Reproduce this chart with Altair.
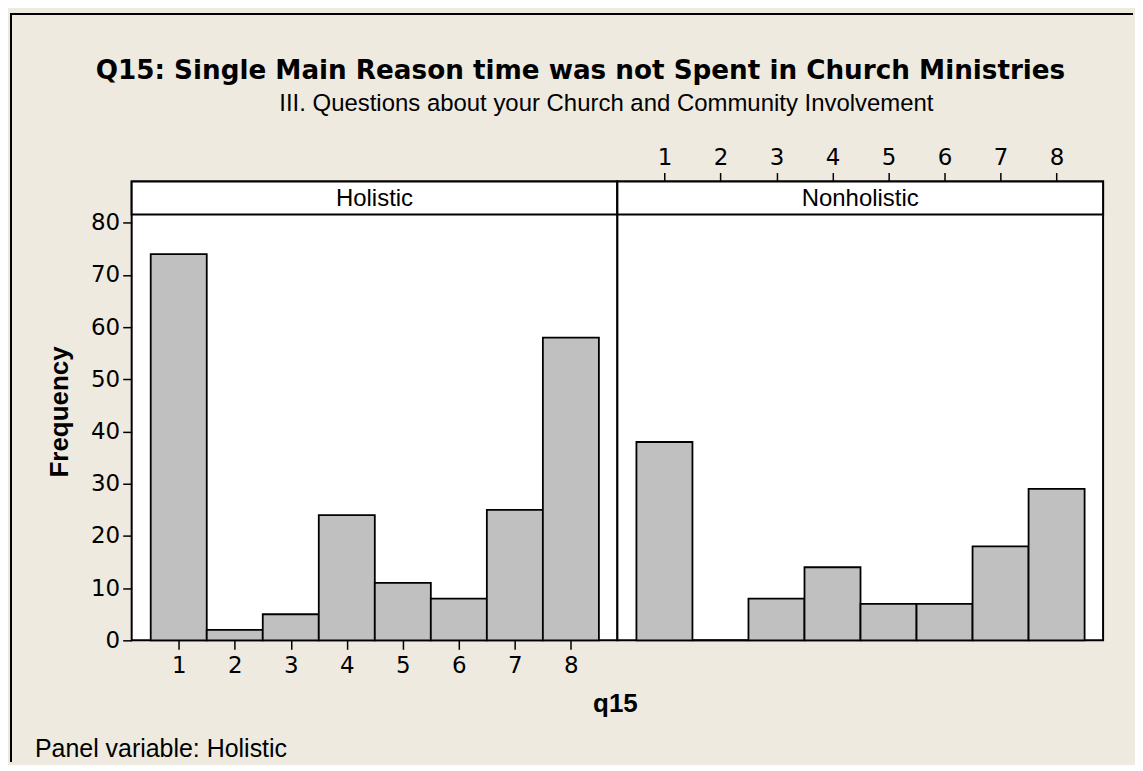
import altair as alt
import pandas as pd

# ---- data ----
categories = [1, 2, 3, 4, 5, 6, 7, 8]
holistic_freq = [74, 2, 5, 24, 11, 8, 25, 58]
nonholistic_freq = [38, 0, 8, 14, 7, 7, 18, 29]
panel_names = ["Holistic", "Nonholistic"]
y_ticks = [0, 10, 20, 30, 40, 50, 60, 70, 80]

title_text = "Q15: Single Main Reason time was not Spent in Church Ministries"
subtitle_text = "III. Questions about your Church and Community Involvement"
footnote_text = "Panel variable: Holistic"
x_title = "q15"
y_title = "Frequency"

# ---- style ----
W, H = 487, 460
XDOM = [0.16, 8.83]
YDOM = [0, 87.9]
FONT = "Liberation Sans"
TICK_FONT = "DejaVu Sans"
TITLE_FONT = "DejaVu Sans"
BG = "#EEEAE0"
BAR = "#C0C0C0"
STRIP_H = 33

x_scale = alt.Scale(domain=XDOM, nice=False, zero=False)
y_scale = alt.Scale(domain=YDOM, nice=False, zero=True)


def bars(values, x_axis, y_axis):
    df = pd.DataFrame({"q15": categories, "freq": values})
    return (
        alt.Chart(df)
        .transform_calculate(lo="datum.q15 - 0.5", hi="datum.q15 + 0.5")
        .mark_bar(fill=BAR, stroke="black", strokeWidth=1.8)
        .encode(
            x=alt.X("lo:Q", scale=x_scale, axis=x_axis),
            x2="hi:Q",
            y=alt.Y("freq:Q", scale=y_scale, axis=y_axis),
            y2=alt.datum(0),
        )
    )


def strip(name):
    df = pd.DataFrame({"panel": [name]})
    rect = alt.Chart(df).mark_rect(fill="white", stroke="black", strokeWidth=2).encode(
        x=alt.value(0), x2=alt.value(W), y=alt.value(0), y2=alt.value(STRIP_H)
    )
    txt = alt.Chart(df).mark_text(
        font=FONT, fontSize=24, baseline="middle", align="center", color="black"
    ).encode(x=alt.value(W / 2), y=alt.value(STRIP_H / 2 + 1), text="panel:N")
    return rect, txt


def label(text, x, y, size, weight="normal", align="center", baseline="alphabetic",
          angle=0, font=FONT):
    df = pd.DataFrame({"t": [text]})
    return alt.Chart(df).mark_text(
        font=font, fontSize=size, fontWeight=weight, align=align,
        baseline=baseline, angle=angle, color="black",
    ).encode(x=alt.value(x), y=alt.value(y), text="t:N")


axis_common = dict(
    labelFont=TICK_FONT, labelFontSize=23, labelColor="black",
    tickColor="black", tickWidth=1.5, tickSize=9, domain=False, grid=False,
)

x_axis_bottom = alt.Axis(values=categories, orient="bottom", title=None, labelPadding=5, **axis_common)
x_axis_top = alt.Axis(values=categories, orient="top", title=None, labelPadding=3, **axis_common)
y_axis_left = alt.Axis(values=y_ticks, orient="left", title=None, labelPadding=3, **axis_common)

# left panel's plot area starts at page (130, 180)
OX, OY = 130, 180

rect_h, txt_h = strip(panel_names[0])
rect_n, txt_n = strip(panel_names[1])

border_df = pd.DataFrame({"k": [0]})
left_border = alt.Chart(border_df).mark_rule(color="black", strokeWidth=2).encode(
    x=alt.value(8 - OX + 1), y=alt.value(12 - OY), y2=alt.value(762 - OY)
)
top_border = alt.Chart(border_df).mark_rule(color="black", strokeWidth=2).encode(
    y=alt.value(12 - OY), x=alt.value(8 - OX), x2=alt.value(1134 - OX)
)

panel_h = alt.layer(
    bars(holistic_freq, x_axis_bottom, y_axis_left),
    rect_h,
    txt_h,
    label(title_text, 580 - OX, 77 - OY, 26.3, weight="bold", font=TITLE_FONT),
    label(subtitle_text, 606 - OX, 109 - OY, 24),
    label(x_title, 615 - OX, 712 - OY, 26, weight="bold"),
    label(y_title, 58 - OX, 411 - OY, 26, weight="bold", baseline="middle", angle=270),
    label(footnote_text, 33 - OX, 757 - OY, 25, align="left"),
    left_border,
    top_border,
).properties(width=W, height=H)

panel_n = alt.layer(
    bars(nonholistic_freq, x_axis_top, None),
    rect_n,
    txt_n,
).properties(width=W, height=H)

chart = (
    alt.hconcat(panel_h, panel_n, spacing=0, bounds="flush")
    .properties(padding={"left": 0, "top": 3, "right": 0, "bottom": 0}, background=BG)
    .configure_view(fill="white", stroke="black", strokeWidth=2)
)

chart.save("out.html", embed_options={"renderer": "svg", "actions": False})
